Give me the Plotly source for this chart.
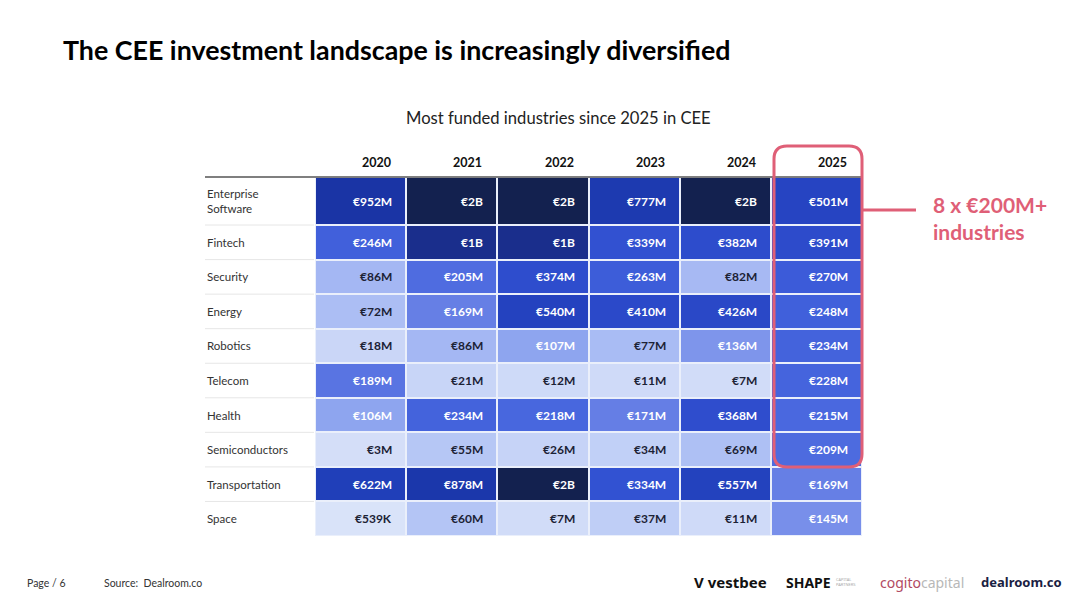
import numpy as np
import plotly.graph_objects as go

# ---------------- data ----------------
industries = ["Enterprise Software", "Fintech", "Security", "Energy", "Robotics",
              "Telecom", "Health", "Semiconductors", "Transportation", "Space"]
years = ["2020", "2021", "2022", "2023", "2024", "2025"]
# funding in € millions, rows = industries, columns = years
funding_2020 = [952, 246, 86, 72, 18, 189, 106, 3, 622, 0.539]
funding_2021 = [2000, 1000, 205, 169, 86, 21, 234, 55, 878, 60]
funding_2022 = [2000, 1000, 374, 540, 107, 12, 218, 26, 2000, 7]
funding_2023 = [777, 339, 263, 410, 77, 11, 171, 34, 334, 37]
funding_2024 = [2000, 382, 82, 426, 136, 7, 368, 69, 557, 11]
funding_2025 = [501, 391, 270, 248, 234, 228, 215, 209, 169, 145]
labels_2020 = ["€952M", "€246M", "€86M", "€72M", "€18M", "€189M", "€106M", "€3M", "€622M", "€539K"]
labels_2021 = ["€2B", "€1B", "€205M", "€169M", "€86M", "€21M", "€234M", "€55M", "€878M", "€60M"]
labels_2022 = ["€2B", "€1B", "€374M", "€540M", "€107M", "€12M", "€218M", "€26M", "€2B", "€7M"]
labels_2023 = ["€777M", "€339M", "€263M", "€410M", "€77M", "€11M", "€171M", "€34M", "€334M", "€37M"]
labels_2024 = ["€2B", "€382M", "€82M", "€426M", "€136M", "€7M", "€368M", "€69M", "€557M", "€11M"]
labels_2025 = ["€501M", "€391M", "€270M", "€248M", "€234M", "€228M", "€215M", "€209M", "€169M", "€145M"]

columns = [funding_2020, funding_2021, funding_2022, funding_2023, funding_2024, funding_2025]
col_labels = [labels_2020, labels_2021, labels_2022, labels_2023, labels_2024, labels_2025]

# ---------------- styling ----------------
W, H = 1080, 608
FONT = "Lato"
RED = "#df5f77"
DARK_TXT = "#1c2235"

def px(x):
    return x / W

def py(y):
    return 1 - y / H

Z = np.array(columns, dtype=float).T  # rows x cols
logZ = np.log10(Z)
zmin, zmax = np.log10(0.5), np.log10(2000)

anchors = [(0.5, "#d9e3f9"), (10, "#d0dbf8"), (30, "#c4d2f7"), (60, "#b4c5f5"),
           (85, "#a5b8f3"), (105, "#8fa6ef"), (140, "#7c93eb"), (180, "#5f78e3"),
           (220, "#4766de"), (300, "#3656d6"), (420, "#2a48c8"), (600, "#2140bb"),
           (900, "#1b36aa"), (960, "#1a34a4"), (1000, "#1a2e8c"), (2000, "#13214f")]
colorscale = [[(np.log10(v) - zmin) / (zmax - zmin), c] for v, c in anchors]

# row heights (first row taller for wrapped label)
row_h = [1.39] + [1.0] * 9
y_edges = np.concatenate([[0], np.cumsum(row_h)])
y_mid = (y_edges[:-1] + y_edges[1:]) / 2
x_edges = np.arange(len(years) + 1)

fig = go.Figure()
fig.add_trace(go.Heatmap(
    z=logZ, x=x_edges, y=y_edges,
    colorscale=colorscale, zmin=zmin, zmax=zmax,
    showscale=False, xgap=2, ygap=2, hoverinfo="skip",
))

annotations = []
# cell labels
for j, labs in enumerate(col_labels):
    for i, lab in enumerate(labs):
        v = columns[j][i]
        annotations.append(dict(
            x=j + 1, y=y_mid[i], xref="x", yref="y", text="<b>" + lab + "</b>",
            showarrow=False, xanchor="right", yanchor="middle", xshift=-12,
            font=dict(family=FONT, size=12, color="white" if v >= 100 else DARK_TXT)))
# column headers
for j, yr in enumerate(years):
    annotations.append(dict(
        x=j + 1, y=py(162), xref="x", yref="paper", text="<b>" + yr + "</b>",
        showarrow=False, xanchor="right", yanchor="middle", xshift=-13,
        font=dict(family=FONT, size=12.5, color="#111111")))
# row labels
for i, ind in enumerate(industries):
    txt = ind.replace(" ", "<br>") if ind == "Enterprise Software" else ind
    annotations.append(dict(
        x=px(205), y=y_mid[i], xref="paper", yref="y", text=txt, align="left",
        showarrow=False, xanchor="left", yanchor="middle",
        font=dict(family=FONT, size=11.5, color="#333333")))

def txt(x, y, text, size, color="#333333", family=FONT, xanchor="left", align="left"):
    return dict(x=px(x), y=py(y), xref="paper", yref="paper", showarrow=False,
                xanchor=xanchor, yanchor="middle", text=text, align=align,
                font=dict(family=family, size=size, color=color))

# title / subtitle / callout / footer
annotations += [
    txt(61, 50, "<b>The CEE investment landscape is increasingly diversified</b>", 26.8, "#000000"),
    txt(558, 118, "Most funded industries since 2025 in CEE", 16.6, "#222222", xanchor="center"),
    txt(931, 218, "<b>8 x €200M+<br>industries</b>", 21, RED),
    txt(25, 583, "Page / 6", 10.5),
    txt(102, 583, "Source:  Dealroom.co", 10.5),
    txt(692, 582, "<b>V vestbee</b>", 15, "#111111", family="Noto Sans"),
    txt(784, 582, "<b>SHAPE</b>", 14, "#111111", family="Noto Sans"),
    txt(834, 582, "CAPITAL<br>PARTNERS", 4, "#aaaaaa", family="Noto Sans"),
    txt(878, 582, "<span style='color:#b14a63'>cogito</span><span style='color:#b8b8b8'>capital</span>",
        14, "#b8b8b8", family="Noto Sans"),
    txt(979, 582, "<b>dealroom.co</b>", 13, "#1a2142", family="Noto Sans"),
]

shapes = []
# header line
shapes.append(dict(type="line", xref="paper", yref="paper", x0=px(205), x1=px(862),
                   y0=py(177), y1=py(177), line=dict(color="#555555", width=1.5)))
# row separators in label area
for e in y_edges[1:-1]:
    shapes.append(dict(type="line", xref="paper", yref="y", x0=px(205), x1=px(314),
                       y0=e, y1=e, line=dict(color="#e6e6e6", width=1)))

# rounded highlight box around 2025 column
x0, x1, y0, y1, r = 774, 862, 146, 467, 13
path = (f"M {px(x0 + r)},{py(y0)} L {px(x1 - r)},{py(y0)} "
        f"Q {px(x1)},{py(y0)} {px(x1)},{py(y0 + r)} L {px(x1)},{py(y1 - r)} "
        f"Q {px(x1)},{py(y1)} {px(x1 - r)},{py(y1)} L {px(x0 + r)},{py(y1)} "
        f"Q {px(x0)},{py(y1)} {px(x0)},{py(y1 - r)} L {px(x0)},{py(y0 + r)} "
        f"Q {px(x0)},{py(y0)} {px(x0 + r)},{py(y0)} Z")
shapes.append(dict(type="path", xref="paper", yref="paper", path=path,
                   line=dict(color=RED, width=3), layer="above"))
shapes.append(dict(type="line", xref="paper", yref="paper", x0=px(862), x1=px(916),
                   y0=py(210), y1=py(210), line=dict(color=RED, width=3)))

fig.update_layout(
    width=W, height=H,
    margin=dict(l=0, r=0, t=0, b=0),
    paper_bgcolor="white", plot_bgcolor="#eaeffb",
    xaxis=dict(domain=[px(315), px(862)], range=[0, len(years)], visible=False, fixedrange=True),
    yaxis=dict(domain=[py(536), py(177)], range=[y_edges[-1], 0], visible=False, fixedrange=True),
    annotations=annotations, shapes=shapes,
    showlegend=False,
)

fig.write_html("out.html", config={"displayModeBar": False},
               post_script="document.body.style.margin='0';")
